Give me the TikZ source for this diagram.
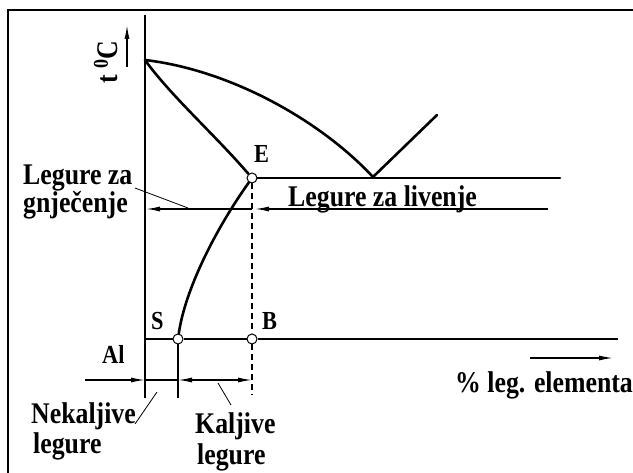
\documentclass[tikz,border=0pt]{standalone}
\usepackage{fontspec}
\setmainfont[FakeStretch=0.86]{Liberation Serif}
\usetikzlibrary{arrows.meta}
\tikzset{
  curve/.style={line width=2.6pt, line join=round, line cap=round},
  thinline/.style={line width=1.3pt},
  arrow/.style={thinline, -{Latex[length=14pt,width=5pt]}},
  dblarrow/.style={thinline, {Latex[length=14pt,width=5pt]}-{Latex[length=14pt,width=5pt]}},
  leader/.style={line width=0.8pt},
  lbl/.style={font=\fontsize{30}{34}\selectfont\bfseries, inner sep=0pt},
  letter/.style={font=\fontsize{26}{30}\selectfont\bfseries, inner sep=0pt},
  pointmark/.style={circle, draw, fill=white, line width=1pt, minimum size=10pt, inner sep=0pt}
}
\begin{document}
\begin{tikzpicture}[x=1pt,y=-1pt]
  \useasboundingbox (0,0) rectangle (633,473);
  \draw[line width=2pt] (8,473) |- (633,10);
  \coordinate (axtop) at (145,15);
  \coordinate (axbot) at (145,398);
  \coordinate (axbase) at (145,339);
  \coordinate (baseend) at (618,339);
  \coordinate (top) at (145,60);
  \coordinate (eut) at (373,177);
  \coordinate (liqend) at (437,115);
  \coordinate (eutend) at (560,178);
  \coordinate (dashend) at (252,395);
  \coordinate (sbot) at (178,398);
  \node[pointmark] (E) at (252,178) {};
  \node[pointmark] (S) at (178,339) {};
  \node[pointmark] (B) at (252,339) {};
  \draw[thinline] (axtop) -- (axbot);
  \draw[thinline] (axbase) -- (S);
  \draw[thinline] (S) -- (B);
  \draw[thinline] (B) -- (baseend);
  \draw[thinline] (S) -- (sbot);
  \draw[thinline, dash pattern=on 6pt off 4pt] (E) -- (B);
  \draw[thinline, dash pattern=on 6pt off 4pt] (B) -- (dashend);
  \draw[curve] (top) .. controls (230,70) and (320,120) .. (eut) -- (liqend);
  \draw[curve] (top) .. controls (170,95) and (215,135) .. (E);
  \draw[curve] (E) -- (eutend);
  \draw[curve] (E) .. controls (215,230) and (185,290) .. (S);
  \node[letter, anchor=base west] (Elbl) at (254,163) {E};
  \node[letter, anchor=base west] (Slbl) at (151,330) {S};
  \node[letter, anchor=base west] (Blbl) at (262,330) {B};
  \node[lbl, rotate=90, anchor=base] (temp) at (117,62) {t \textsuperscript{0}C};
  \coordinate (tarrowA) at (127,67);
  \coordinate (tarrowB) at (127,25);
  \draw[arrow] (tarrowA) -- (tarrowB);
  \node[lbl, anchor=base west] (liv) at (288,207) {Legure za livenje};
  \node[lbl, anchor=base west] (gnj1) at (23,185) {Legure za};
  \node[lbl, anchor=base west] (gnj2) at (23,213) {gnječenje};
  \coordinate (livstart) at (548,209);
  \coordinate (livtip) at (255,209);
  \coordinate (gnjstart) at (252,209);
  \coordinate (gnjtip) at (146,209);
  \coordinate (gnjfoot) at (135,188);
  \coordinate (gnjlead) at (188,208);
  \draw[arrow] (livstart) -- (livtip);
  \draw[arrow] (gnjstart) -- (gnjtip);
  \draw[leader] (gnjfoot) -- (gnjlead);
  \node[letter, anchor=base west] (al) at (102,364) {Al};
  \node[lbl, anchor=base west] (elem) at (455,393) {\% leg. elementa};
  \coordinate (elemA) at (530,358);
  \coordinate (elemB) at (613,358);
  \draw[arrow] (elemA) -- (elemB);
  \coordinate (alstart) at (85,380);
  \coordinate (altip) at (145,380);
  \coordinate (sline) at (178,380);
  \coordinate (bline) at (252,380);
  \draw[arrow] (alstart) -- (altip);
  \draw[line width=1.8pt] (altip) -- (sline);
  \draw[dblarrow] (sline) -- (bline);
  \node[lbl, anchor=base west] (nek1) at (31,424) {Nekaljive};
  \node[lbl, anchor=base west] (nek2) at (33,454) {legure};
  \node[lbl, anchor=base west] (kal1) at (195,434) {Kaljive};
  \node[lbl, anchor=base west] (kal2) at (197,465) {legure};
  \coordinate (nekfoot) at (135,424);
  \coordinate (neklead) at (157,392);
  \coordinate (kalfoot) at (231,405);
  \coordinate (kallead) at (218,383);
  \draw[leader] (nekfoot) -- (neklead);
  \draw[leader] (kalfoot) -- (kallead);
\end{tikzpicture}
\end{document}
